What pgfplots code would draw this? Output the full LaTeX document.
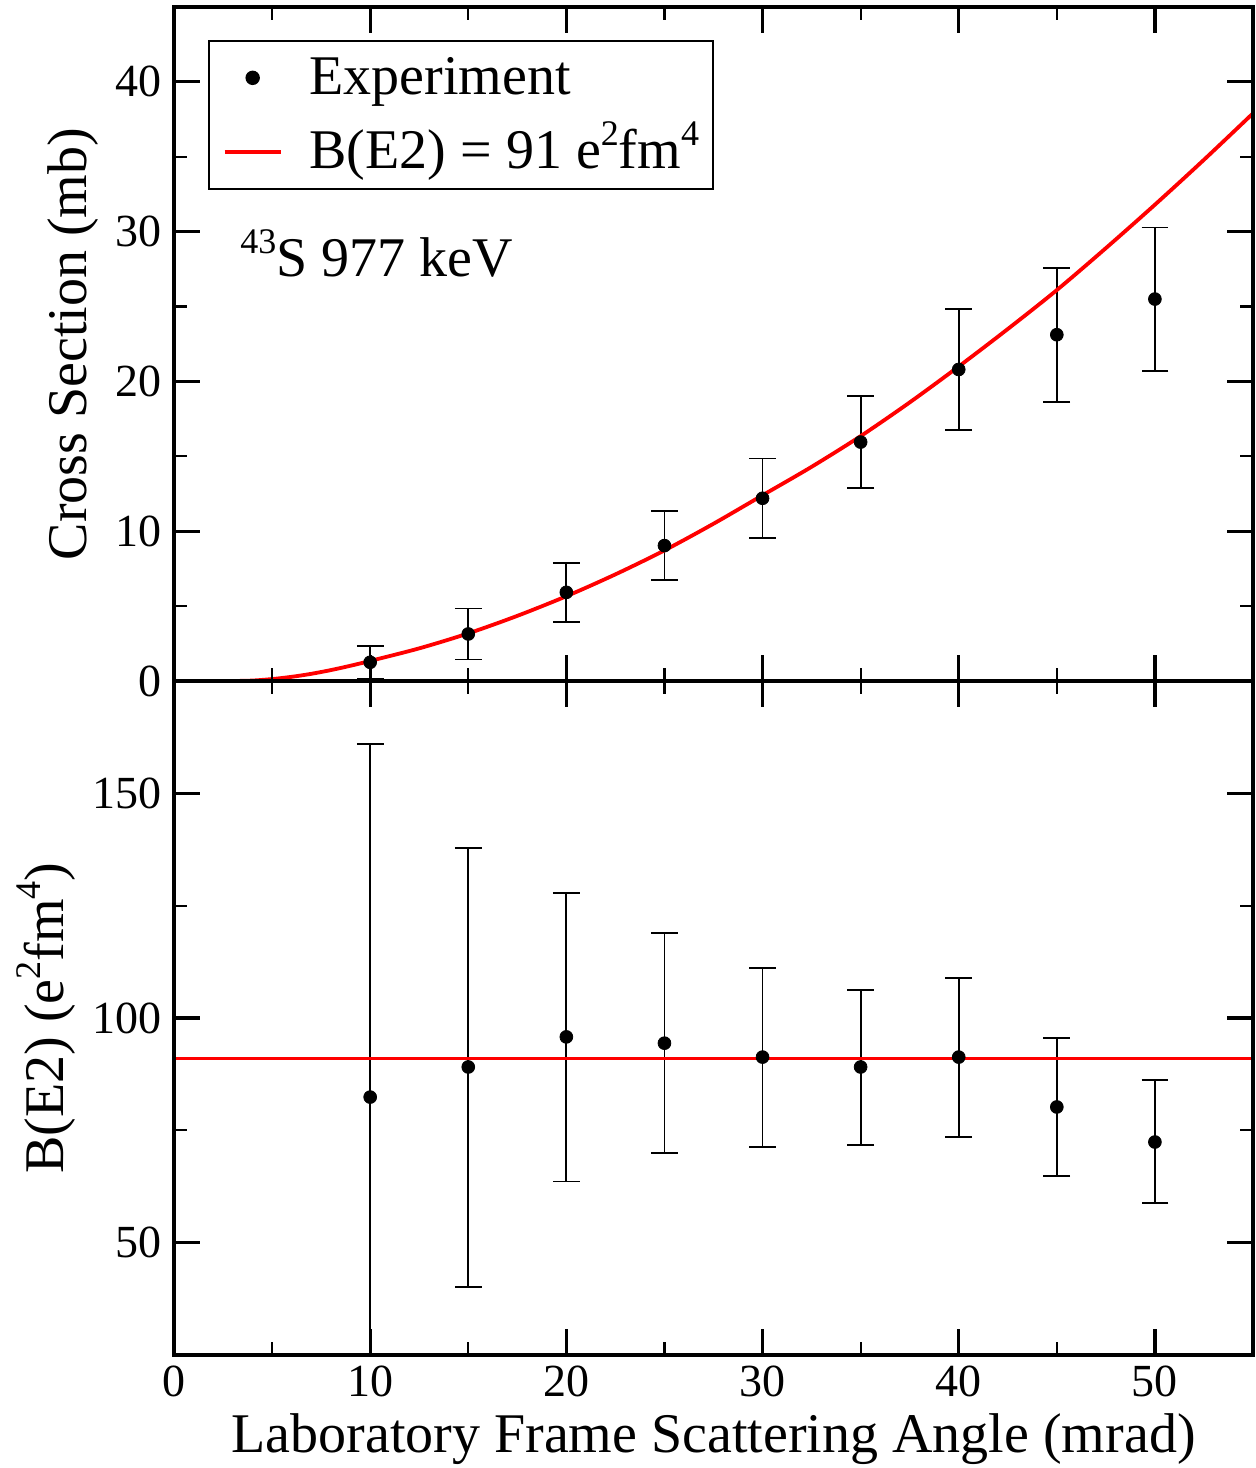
\documentclass[border=0pt]{standalone}
\usepackage{fontspec}
\setmainfont{Liberation Serif}
\usepackage{pgfplots}
\pgfplotsset{compat=1.18}
\newcommand\tickfont{\fontsize{23}{26}\selectfont}
\newcommand\labfont{\fontsize{28}{32}\selectfont}
\newcommand\sups[1]{\raisebox{11.5pt}{\fontsize{18}{18}\selectfont #1}}
\pgfplotsset{
  common/.style={
    scale only axis, width=539.5pt, height=337pt,
    xmin=0, xmax=55,
    tick align=inside,
    major tick length=13pt, minor tick length=6.5pt,
    axis line style={line width=1.6pt},
    every tick/.style={black, line width=1.6pt},
    every minor tick/.append style={line width=1.1pt},
    tick label style={font=\tickfont},
    yticklabel style={xshift=-2.5pt},
    xticklabel style={yshift=-2pt},
    /pgf/number format/assume math mode=true,
    xtick={0,10,20,30,40,50}, minor x tick num=1,
    label style={font=\labfont},
    axis on top,
  },
  ptleg/.style={legend image code/.code={\draw[mark repeat=2,mark phase=2,##1] plot coordinates {(0pt,0pt) (14pt,0pt) (28pt,0pt)};}},
  lnleg/.style={legend image code/.code={\draw[##1] (0pt,0pt) -- (28pt,0pt);}},
  errstyle/.style={
    black, only marks, mark=*, mark size=3.2pt, mark options={fill=black, draw=black},
    error bars/.cd, y dir=both, y explicit,
    error bar style={line width=0.9pt},
    error mark options={rotate=90, mark size=6.7pt, line width=0.9pt},
  },
}
\begin{document}
\begin{tikzpicture}
\begin{axis}[common, name=top,
  ymin=0, ymax=45,
  ytick={0,10,20,30,40}, minor y tick num=1,
  xticklabels={},
  ylabel={Cross Section (mb)},
  ylabel style={at={(axis description cs:-0.0936,0.5)}, anchor=center},
  legend cell align=left,
  legend style={at={(axis description cs:0.0315,0.951)}, anchor=north west,
    draw=black, line width=0.8pt, font=\labfont,
    inner xsep=7pt, inner ysep=6pt, row sep=12pt, column sep=13.5pt,
    nodes={inner sep=0pt, text height=21pt, text depth=4pt}},
]
\addplot+[ptleg, errstyle]
  coordinates {
  (10,1.25) +- (0,1.1)
  (15,3.14) +- (0,1.7)
  (20,5.92) +- (0,1.97)
  (25,9.04) +- (0,2.3)
  (30,12.2) +- (0,2.65)
  (35,15.95) +- (0,3.07)
  (40,20.8) +- (0,4.02)
  (45,23.12) +- (0,4.47)
  (50,25.5) +- (0,4.78)
};
\addlegendentry{Experiment}
\addplot[red, line width=1.9pt, no marks, smooth, tension=0.5, lnleg]
  coordinates {
  (2.5,0) (3,0) (4,0.03) (5,0.13) (6,0.28) (7,0.48) (8,0.73) (9,1.02) (10,1.34)
  (12.5,2.18) (15,3.18) (17.5,4.35) (20,5.66) (22.5,7.12) (25,8.72)
  (27.5,10.5) (30,12.4) (32.5,14.3) (35,16.35) (37.5,18.6) (40,21.0)
  (42.5,23.5) (45,26.1) (47.5,28.9) (50,31.8) (52.5,34.8) (55,37.9)
};
\addlegendentry{B(E2) = 91 e\sups{2}fm\sups{4}}
\node[anchor=base west, inner sep=0pt, font=\labfont] at (axis cs:3.36,26.98) {\sups{43}S 977 keV};
\end{axis}
\begin{axis}[common, name=bot, at={(top.south west)}, anchor=north west,
  ymin=25, ymax=175,
  ytick={50,100,150}, minor y tick num=1,
  xlabel={Laboratory Frame Scattering Angle (mrad)},
  xlabel style={at={(axis description cs:0.5,-0.1439)}, anchor=base},
  ylabel={B(E2) (e\sups{2}fm\sups{4})},
  ylabel style={at={(axis description cs:-0.1186,0.5)}, anchor=center},
]
\addplot+[errstyle] coordinates {
  (10,82.4) += (0,78.5) -= (0,77.4)
  (15,89.1) += (0,48.7) -= (0,48.9)
  (20,95.8) += (0,32.0) -= (0,32.2)
  (25,94.4) += (0,24.5) -= (0,24.4)
  (30,91.3) += (0,19.8) -= (0,20.0)
  (35,89.1) += (0,17.1) -= (0,17.3)
  (40,91.3) += (0,17.6) -= (0,17.7)
  (45,80.2) += (0,15.4) -= (0,15.3)
  (50,72.4) += (0,13.8) -= (0,13.5)
};
\addplot[red, line width=1.9pt, no marks] coordinates {(0,91) (55,91)};
\end{axis}
\pgfresetboundingbox
\path ([shift={(-87pt,-56.5pt)}]bot.south west) rectangle ([shift={(1.5pt,3.5pt)}]top.north east);
\end{tikzpicture}
\end{document}
